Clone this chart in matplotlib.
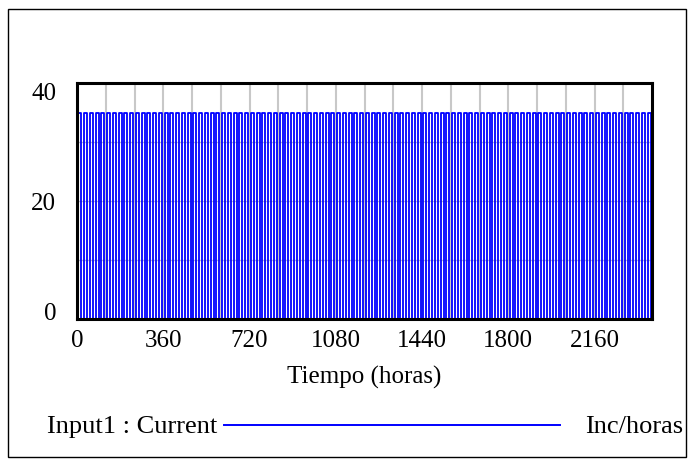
import numpy as np
import matplotlib.pyplot as plt
from matplotlib.lines import Line2D
from matplotlib.patches import Rectangle
import matplotlib.transforms as mtransforms

plt.rcParams['font.family'] = ['Liberation Serif', 'DejaVu Serif']

# one day of the input current (hours within the day, value)
day_hours = [0, 6, 6, 18, 18, 24]
day_values = [0, 0, 37.6, 37.6, 0, 0]
n_days = 100

x_ticks = [0, 360, 720, 1080, 1440, 1800, 2160]
y_ticks = [0, 20, 40]
series_label = 'Input1 : Current'
units_label = 'Inc/horas'

t = np.concatenate([np.array(day_hours) + 24 * d for d in range(n_days)])
v = np.tile(day_values, n_days)

fig = plt.figure(figsize=(6.95, 4.66), dpi=100)
ax = fig.add_axes([77 / 695, 1 - 319 / 466, 575 / 695, 236 / 466])

ax.plot(t, v, color='#0000ff', linewidth=1.3, zorder=3)

ax.set_xlim(0, 2400)
ax.set_ylim(0, 43)

# grid: vertical every 120 h, horizontal at quarters
for gx in range(120, 2400, 120):
    ax.axvline(gx, color='#c8c8c8', linewidth=1.5, zorder=1)
for gy in [43 / 4, 43 / 2, 3 * 43 / 4]:
    ax.axhline(gy, color='#b8b8c8', linewidth=1.0, zorder=1)

ax.set_xticks(x_ticks)
ax.set_xticklabels([str(x) for x in x_ticks])
ax.set_yticks(y_ticks)
ax.set_yticklabels([str(y) for y in y_ticks])
ax.tick_params(length=0, labelsize=18, colors='black')
ax.tick_params(axis='x', pad=8)
ax.tick_params(axis='y', pad=15)
shift = mtransforms.ScaledTranslation(0, 8 / 100, fig.dpi_scale_trans)
for lab in ax.get_yticklabels():
    lab.set_transform(lab.get_transform() + shift)

for s in ax.spines.values():
    s.set_linewidth(2.2)
    s.set_color('black')
    s.set_zorder(4)

ax.set_xlabel('Tiempo (horas)', fontsize=18, labelpad=10)

# legend row below the chart
fig.text(47 / 695, 1 - 427 / 466, series_label, fontsize=19, va='center', ha='left')
fig.add_artist(Line2D([224 / 695, 560 / 695], [1 - 425 / 466, 1 - 425 / 466],
                      color='#0000ff', linewidth=1.4))
fig.text(683 / 695, 1 - 427 / 466, units_label, fontsize=19, va='center', ha='right')

# outer frame
fig.add_artist(Rectangle((8 / 695, 1 - 457 / 466), 678 / 695, 448 / 466,
                         fill=False, edgecolor='black', linewidth=1.0,
                         transform=fig.transFigure))

fig.savefig('out.png', dpi=100)
